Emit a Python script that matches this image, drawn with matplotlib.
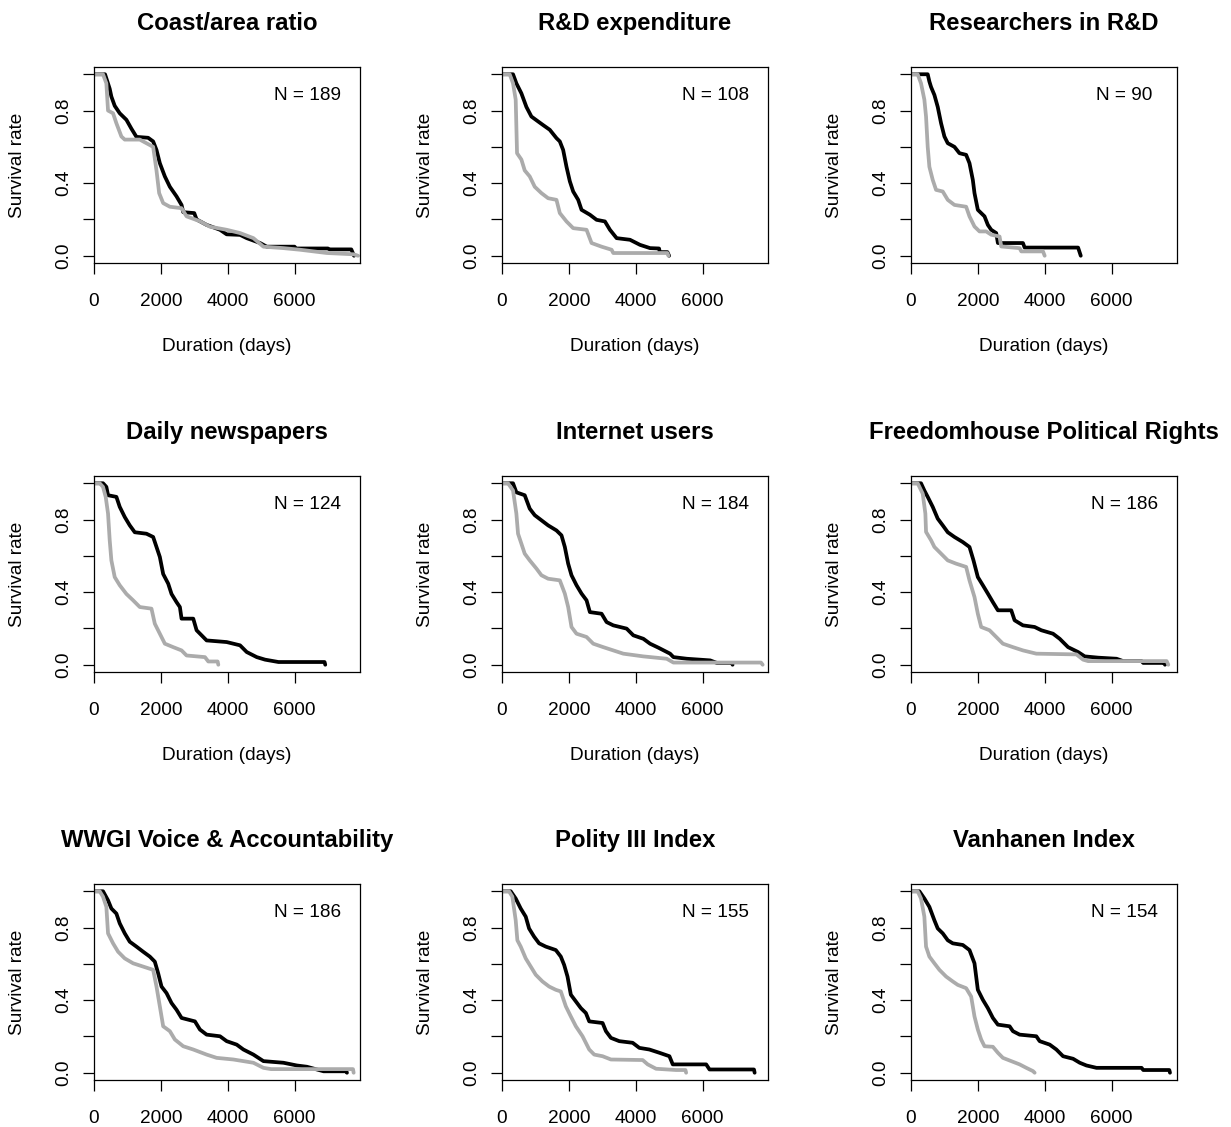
import matplotlib
matplotlib.use("Agg")
import matplotlib.pyplot as plt

plt.rcParams['font.family'] = ['Liberation Sans', 'DejaVu Sans']

# ---------------- data ----------------
titles = ["Coast/area ratio", "R&D expenditure", "Researchers in R&D",
          "Daily newspapers", "Internet users", "Freedomhouse Political Rights",
          "WWGI Voice & Accountability", "Polity III Index", "Vanhanen Index"]
n_labels = ["N = 189", "N = 108", "N = 90", "N = 124", "N = 184", "N = 186",
            "N = 186", "N = 155", "N = 154"]
x_ticks = [0, 2000, 4000, 6000]
y_ticks = [0.0, 0.2, 0.4, 0.6, 0.8, 1.0]
y_ticklabels = ["0.0", "", "0.4", "", "0.8", ""]

# survival curves: vertices (days, survival rate)
coast_black_t = [0, 330, 470, 520, 620, 770, 970, 1120, 1270, 1620, 1770, 1870, 1970, 2120, 2270, 2470, 2620, 2670, 3000, 3070, 3370, 3770, 3970, 4370, 4570, 4970, 5170, 6000, 6050, 7000, 7050, 7700, 7780]
coast_black_s = [1.0, 1.0, 0.92, 0.877, 0.826, 0.785, 0.749, 0.70, 0.655, 0.65, 0.63, 0.583, 0.51, 0.437, 0.38, 0.327, 0.28, 0.24, 0.235, 0.20, 0.17, 0.143, 0.118, 0.115, 0.097, 0.07, 0.05, 0.05, 0.04, 0.04, 0.035, 0.035, 0.0]
coast_gray_t = [0, 270, 370, 420, 570, 670, 820, 920, 1370, 1570, 1770, 1870, 1950, 2070, 2270, 2620, 2770, 3170, 3470, 3970, 4370, 4770, 5070, 5670, 6170, 6970, 7770, 7900]
coast_gray_s = [1.0, 1.0, 0.95, 0.80, 0.785, 0.73, 0.657, 0.64, 0.64, 0.62, 0.60, 0.47, 0.345, 0.29, 0.27, 0.262, 0.217, 0.19, 0.16, 0.143, 0.125, 0.097, 0.05, 0.042, 0.033, 0.015, 0.008, 0.0]

rd_black_t = [0, 330, 430, 580, 730, 880, 1080, 1230, 1430, 1630, 1730, 1830, 1930, 2030, 2130, 2280, 2380, 2630, 2830, 3080, 3230, 3430, 3830, 4130, 4430, 4700, 4720, 4950, 5000]
rd_black_s = [1.0, 1.0, 0.95, 0.895, 0.82, 0.767, 0.74, 0.72, 0.694, 0.648, 0.63, 0.583, 0.49, 0.41, 0.354, 0.308, 0.253, 0.226, 0.198, 0.189, 0.143, 0.097, 0.088, 0.06, 0.042, 0.04, 0.02, 0.02, 0.0]
rd_gray_t = [0, 230, 330, 410, 450, 580, 680, 830, 980, 1180, 1380, 1630, 1730, 1930, 2130, 2530, 2680, 2980, 3280, 3330, 4950, 4980]
rd_gray_s = [1.0, 1.0, 0.95, 0.86, 0.565, 0.53, 0.47, 0.437, 0.38, 0.345, 0.317, 0.308, 0.235, 0.189, 0.152, 0.143, 0.07, 0.05, 0.033, 0.015, 0.015, 0.0]

res_black_t = [0, 500, 550, 600, 700, 800, 900, 1000, 1100, 1300, 1450, 1650, 1750, 1850, 1900, 2000, 2200, 2300, 2400, 2550, 2600, 3350, 3400, 5000, 5080]
res_black_s = [1.0, 1.0, 0.96, 0.93, 0.886, 0.82, 0.73, 0.657, 0.62, 0.60, 0.565, 0.556, 0.51, 0.418, 0.345, 0.253, 0.217, 0.17, 0.143, 0.125, 0.07, 0.07, 0.045, 0.045, 0.0]
res_gray_t = [0, 200, 300, 400, 450, 500, 550, 650, 750, 950, 1100, 1300, 1650, 1750, 1900, 2050, 2250, 2400, 2650, 2700, 3250, 3300, 3950, 4000]
res_gray_s = [1.0, 1.0, 0.95, 0.86, 0.767, 0.60, 0.49, 0.418, 0.363, 0.354, 0.308, 0.28, 0.27, 0.217, 0.161, 0.134, 0.134, 0.116, 0.106, 0.051, 0.042, 0.024, 0.024, 0.0]

news_black_t = [0, 270, 370, 420, 670, 770, 920, 1070, 1220, 1570, 1770, 1870, 1970, 2070, 2220, 2320, 2470, 2570, 2620, 2970, 3070, 3220, 3370, 3970, 4370, 4570, 4870, 5120, 5520, 6900, 6920]
news_black_s = [1.0, 1.0, 0.98, 0.934, 0.925, 0.87, 0.814, 0.768, 0.73, 0.722, 0.704, 0.649, 0.594, 0.50, 0.447, 0.39, 0.345, 0.318, 0.254, 0.254, 0.19, 0.162, 0.134, 0.125, 0.107, 0.07, 0.042, 0.028, 0.015, 0.015, 0.0]
news_gray_t = [0, 170, 270, 350, 420, 470, 520, 620, 770, 970, 1170, 1370, 1720, 1820, 1970, 2120, 2370, 2620, 2770, 3320, 3420, 3700, 3720]
news_gray_s = [1.0, 1.0, 0.98, 0.925, 0.833, 0.686, 0.575, 0.483, 0.438, 0.39, 0.355, 0.318, 0.309, 0.226, 0.171, 0.116, 0.097, 0.079, 0.051, 0.042, 0.018, 0.018, 0.0]

inet_black_t = [0, 330, 430, 680, 830, 980, 1180, 1380, 1630, 1780, 1880, 1980, 2080, 2230, 2380, 2530, 2630, 2980, 3130, 3330, 3730, 3930, 4230, 4430, 4680, 5030, 5130, 5530, 6230, 6430, 6880, 6900]
inet_black_s = [1.0, 1.0, 0.95, 0.934, 0.86, 0.824, 0.796, 0.768, 0.74, 0.713, 0.649, 0.557, 0.493, 0.438, 0.392, 0.355, 0.29, 0.281, 0.235, 0.217, 0.199, 0.162, 0.143, 0.116, 0.094, 0.061, 0.042, 0.033, 0.024, 0.01, 0.01, 0.0]
inet_gray_t = [0, 180, 330, 430, 480, 580, 680, 830, 1030, 1180, 1380, 1730, 1880, 1980, 2080, 2230, 2530, 2730, 3030, 3330, 3630, 4230, 4930, 5130, 7750, 7800]
inet_gray_s = [1.0, 1.0, 0.96, 0.833, 0.722, 0.667, 0.612, 0.575, 0.53, 0.493, 0.474, 0.465, 0.392, 0.318, 0.208, 0.171, 0.153, 0.116, 0.097, 0.079, 0.061, 0.046, 0.033, 0.012, 0.012, 0.0]

fh_black_t = [0, 300, 400, 500, 650, 800, 950, 1100, 1300, 1550, 1750, 1870, 2000, 2150, 2300, 2450, 2600, 3000, 3100, 3350, 3700, 3900, 4250, 4450, 4700, 5000, 5200, 5600, 6150, 6350, 6900, 6950, 7580, 7600]
fh_black_s = [1.0, 1.0, 0.96, 0.925, 0.87, 0.805, 0.768, 0.73, 0.704, 0.676, 0.649, 0.575, 0.483, 0.438, 0.392, 0.345, 0.30, 0.30, 0.245, 0.217, 0.208, 0.19, 0.171, 0.143, 0.097, 0.07, 0.046, 0.039, 0.033, 0.02, 0.02, 0.01, 0.01, 0.0]
fh_gray_t = [0, 200, 350, 430, 450, 600, 700, 900, 1100, 1350, 1650, 1750, 1900, 2000, 2100, 2350, 2550, 2750, 3050, 3350, 3750, 4950, 5150, 5300, 7650, 7700]
fh_gray_s = [1.0, 1.0, 0.943, 0.833, 0.732, 0.686, 0.649, 0.612, 0.575, 0.557, 0.539, 0.465, 0.373, 0.281, 0.208, 0.19, 0.153, 0.116, 0.097, 0.079, 0.061, 0.057, 0.028, 0.02, 0.02, 0.0]

wwgi_black_t = [0, 270, 420, 520, 670, 770, 920, 1070, 1270, 1470, 1670, 1820, 1920, 2020, 2170, 2320, 2470, 2620, 3020, 3170, 3370, 3770, 3970, 4270, 4470, 4770, 5070, 5670, 6070, 6370, 6870, 7550, 7570]
wwgi_black_s = [1.0, 1.0, 0.95, 0.905, 0.877, 0.823, 0.768, 0.722, 0.695, 0.667, 0.64, 0.612, 0.548, 0.475, 0.439, 0.384, 0.347, 0.302, 0.283, 0.238, 0.21, 0.201, 0.174, 0.155, 0.128, 0.10, 0.064, 0.055, 0.04, 0.033, 0.008, 0.008, 0.0]
wwgi_gray_t = [0, 170, 270, 370, 420, 570, 720, 920, 1170, 1470, 1770, 1870, 1970, 2070, 2270, 2420, 2670, 2970, 3370, 3670, 4170, 4770, 5070, 5300, 7750, 7770]
wwgi_gray_s = [1.0, 1.0, 0.97, 0.914, 0.768, 0.713, 0.667, 0.63, 0.603, 0.585, 0.567, 0.475, 0.366, 0.256, 0.229, 0.183, 0.146, 0.128, 0.10, 0.082, 0.073, 0.055, 0.027, 0.02, 0.02, 0.0]

pol_black_t = [0, 260, 410, 560, 710, 810, 960, 1110, 1310, 1610, 1760, 1860, 1960, 2060, 2210, 2360, 2510, 2610, 3010, 3110, 3260, 3510, 3910, 4110, 4410, 4710, 5010, 5110, 6110, 6210, 7540, 7560]
pol_black_s = [1.0, 1.0, 0.96, 0.905, 0.86, 0.795, 0.75, 0.713, 0.695, 0.676, 0.64, 0.594, 0.53, 0.43, 0.393, 0.356, 0.329, 0.283, 0.274, 0.229, 0.192, 0.174, 0.165, 0.137, 0.128, 0.11, 0.091, 0.046, 0.046, 0.018, 0.018, 0.0]
pol_gray_t = [0, 210, 310, 410, 460, 560, 710, 860, 1010, 1210, 1410, 1610, 1760, 1910, 2060, 2210, 2410, 2610, 2760, 3010, 3260, 4210, 4360, 4610, 5210, 5490, 5510]
pol_gray_s = [1.0, 1.0, 0.97, 0.84, 0.73, 0.695, 0.63, 0.585, 0.54, 0.503, 0.475, 0.457, 0.448, 0.366, 0.31, 0.256, 0.201, 0.128, 0.10, 0.091, 0.073, 0.07, 0.046, 0.022, 0.015, 0.015, 0.0]

van_black_t = [0, 250, 400, 550, 700, 800, 950, 1100, 1250, 1550, 1750, 1900, 2000, 2150, 2300, 2450, 2600, 2950, 3050, 3250, 3750, 3850, 4150, 4350, 4550, 4850, 5050, 5250, 5550, 6900, 6950, 7730, 7750]
van_black_s = [1.0, 1.0, 0.96, 0.914, 0.84, 0.795, 0.768, 0.73, 0.713, 0.704, 0.676, 0.603, 0.457, 0.402, 0.356, 0.302, 0.265, 0.256, 0.229, 0.21, 0.201, 0.174, 0.155, 0.128, 0.091, 0.077, 0.055, 0.04, 0.027, 0.027, 0.015, 0.015, 0.0]
van_gray_t = [0, 200, 300, 400, 450, 550, 700, 850, 1050, 1250, 1400, 1650, 1800, 1900, 2000, 2100, 2200, 2450, 2600, 2750, 3000, 3250, 3450, 3650, 3700]
van_gray_s = [1.0, 1.0, 0.96, 0.86, 0.695, 0.64, 0.603, 0.567, 0.53, 0.503, 0.484, 0.466, 0.42, 0.31, 0.238, 0.183, 0.146, 0.143, 0.11, 0.082, 0.064, 0.046, 0.027, 0.009, 0.0]

black_series = [(coast_black_t, coast_black_s), (rd_black_t, rd_black_s), (res_black_t, res_black_s),
                (news_black_t, news_black_s), (inet_black_t, inet_black_s), (fh_black_t, fh_black_s),
                (wwgi_black_t, wwgi_black_s), (pol_black_t, pol_black_s), (van_black_t, van_black_s)]
gray_series = [(coast_gray_t, coast_gray_s), (rd_gray_t, rd_gray_s), (res_gray_t, res_gray_s),
               (news_gray_t, news_gray_s), (inet_gray_t, inet_gray_s), (fh_gray_t, fh_gray_s),
               (wwgi_gray_t, wwgi_gray_s), (pol_gray_t, pol_gray_s), (van_gray_t, van_gray_s)]

# ---------------- layout ----------------
W, H = 1231, 1127
fig = plt.figure(figsize=(W / 100, H / 100), dpi=100)
col_left = [94, 502, 911]
row_top = [67, 476, 884]
box_w, box_h = 266, 196
XMAX = 7960
FS = 13.7
TFS = 17.2
GRAY = '#ababab'

for i in range(9):
    r, c = divmod(i, 3)
    L, T = col_left[c], row_top[r]
    ax = fig.add_axes([L / W, 1 - (T + box_h) / H, box_w / W, box_h / H])
    bt, bs = black_series[i]
    gt, gs = gray_series[i]
    ax.plot(bt, bs, color='black', lw=2.7, solid_joinstyle='round', solid_capstyle='round')
    ax.plot(gt, gs, color=GRAY, lw=2.7, solid_joinstyle='round', solid_capstyle='round')
    ax.set_xlim(0, XMAX)
    ax.set_ylim(-0.04, 1.04)
    ax.set_xticks(x_ticks)
    ax.set_xticklabels([str(v) for v in x_ticks])
    ax.set_yticks(y_ticks)
    ax.set_yticklabels(y_ticklabels, rotation=90, va='center')
    ax.tick_params(axis='both', direction='out', length=7.9, width=0.9, labelsize=FS)
    ax.tick_params(axis='x', pad=13.5)
    ax.tick_params(axis='y', pad=8.0)
    for sp in ax.spines.values():
        sp.set_linewidth(0.9)
    ax.text(0.803, 0.858, n_labels[i], transform=ax.get_yaxis_transform(),
            ha='center', va='baseline', fontsize=FS)
    cx = L + box_w / 2
    fig.text(cx / W, 1 - (T - 37) / H, titles[i], ha='center', va='baseline',
             fontsize=TFS, fontweight='bold')
    fig.text((L - 72) / W, 1 - (T + box_h / 2) / H, 'Survival rate', rotation=90,
             rotation_mode='anchor', ha='center', va='baseline', fontsize=FS)
    if r < 2:
        fig.text(cx / W, 1 - (T + box_h + 88) / H, 'Duration (days)', ha='center',
                 va='baseline', fontsize=FS)

fig.savefig('out.png', dpi=100)
